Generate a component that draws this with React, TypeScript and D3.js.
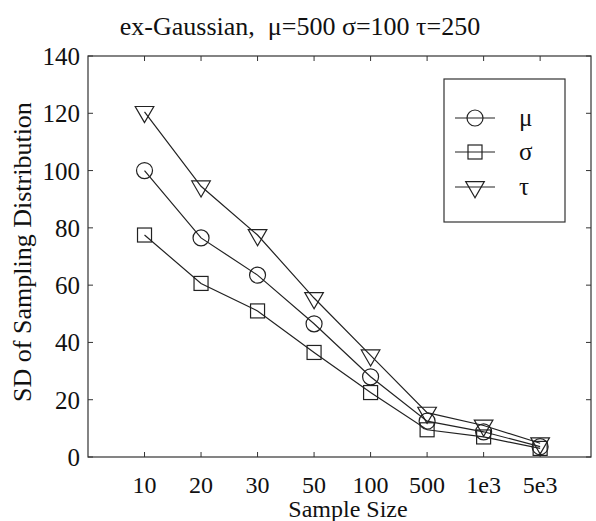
import React from "react";
import * as d3 from "d3";

const categories = ["10", "20", "30", "50", "100", "500", "1e3", "5e3"];
const muValues = [100, 76.5, 63.5, 46.5, 28, 12.5, 8.8, 3.6];
const sigmaValues = [77.5, 60.6, 51, 36.5, 22.5, 9.5, 7, 3];
const tauValues = [120.5, 94.5, 77.5, 55.5, 35.5, 15.5, 11, 4.8];
const yTicks = [0, 20, 40, 60, 80, 100, 120, 140];
const seriesNames = ["μ", "σ", "τ"];

const W = 596, H = 521;
const L = 88, R = 591, T = 56, B = 457;

function Marker({ kind, x, y }: { kind: string; x: number; y: number }) {
  const stroke = "#222";
  if (kind === "μ") return <circle cx={x} cy={y} r={8} fill="none" stroke={stroke} strokeWidth={1.2} />;
  if (kind === "σ") return <rect x={x - 7} y={y - 7} width={14} height={14} fill="none" stroke={stroke} strokeWidth={1.2} />;
  const tri = d3.symbol().type(d3.symbolTriangle).size(150)() as string;
  return <path d={tri} transform={`translate(${x},${y}) rotate(180)`} fill="none" stroke={stroke} strokeWidth={1.2} />;
}

export default function App() {
  const x = d3.scaleLinear().domain([0, 8.9]).range([L, R]);
  const y = d3.scaleLinear().domain([0, 140]).range([B, T]);
  const line = d3.line<number>().x((_, i) => x(i + 1)).y((d) => y(d));
  const series = [muValues, sigmaValues, tauValues];
  const font = "'Liberation Serif', 'Times New Roman', serif";
  const legendY = [118, 152, 187];
  return (
    <svg width={W} height={H} style={{ position: "absolute", left: 0, top: 0, background: "#fff" }} fontFamily={font}>
      <rect x={0} y={0} width={W} height={H} fill="#fff" />
      <text x={300} y={35} textAnchor="middle" fontSize={26} fill="#111" style={{ whiteSpace: "pre" }}>
        {"ex-Gaussian,  μ=500 σ=100 τ=250"}
      </text>
      <rect x={L} y={T} width={R - L} height={B - T} fill="none" stroke="#333" strokeWidth={1.2} />
      {categories.map((c, i) => (
        <g key={c}>
          <line x1={x(i + 1)} x2={x(i + 1)} y1={B} y2={B - 5} stroke="#333" />
          <line x1={x(i + 1)} x2={x(i + 1)} y1={T} y2={T + 5} stroke="#333" />
          <text x={x(i + 1)} y={493} textAnchor="middle" fontSize={24} fill="#111">{c}</text>
        </g>
      ))}
      {yTicks.map((t) => (
        <g key={t}>
          <line x1={L} x2={L + 5} y1={y(t)} y2={y(t)} stroke="#333" />
          <line x1={R} x2={R - 5} y1={y(t)} y2={y(t)} stroke="#333" />
          <text x={80} y={y(t) + 9} textAnchor="end" fontSize={25} fill="#111">{t}</text>
        </g>
      ))}
      <text x={348} y={517} textAnchor="middle" fontSize={24} fill="#111">Sample Size</text>
      <text transform={`translate(31,252) rotate(-90)`} textAnchor="middle" fontSize={26} fill="#111">
        SD of Sampling Distribution
      </text>
      {series.map((vals, si) => (
        <g key={si}>
          <path d={line(vals) as string} fill="none" stroke="#222" strokeWidth={1.2} />
          {vals.map((v, i) => (
            <Marker key={i} kind={seriesNames[si]} x={x(i + 1)} y={y(v)} />
          ))}
        </g>
      ))}
      <rect x={444} y={79} width={121} height={143} fill="#fff" stroke="#333" strokeWidth={1.2} />
      {seriesNames.map((n, i) => (
        <g key={n}>
          <line x1={455} x2={495} y1={legendY[i]} y2={legendY[i]} stroke="#222" strokeWidth={1.2} />
          <Marker kind={n} x={475} y={legendY[i]} />
          <text x={519} y={legendY[i] + 8} fontSize={25} fill="#111">{n}</text>
        </g>
      ))}
    </svg>
  );
}
